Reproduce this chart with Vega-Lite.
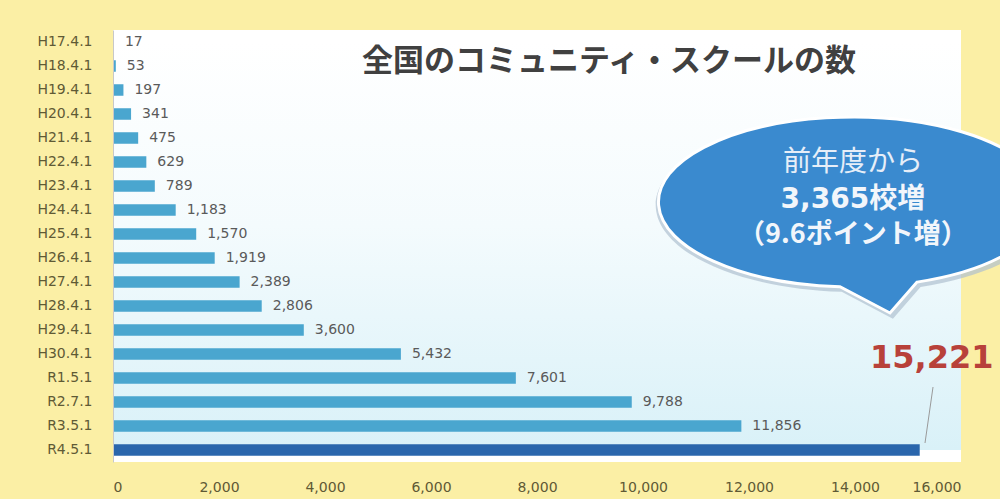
{
  "$schema": "https://vega.github.io/schema/vega-lite/v6.json",
  "width": 848,
  "height": 432,
  "autosize": {"type": "none"},
  "padding": {"left": 113, "top": 30, "right": 39, "bottom": 37},
  "background": "#FBEFA5",
  "config": {
    "view": {"fill": "white", "stroke": null},
    "font": "Noto Sans CJK JP"
  },
  "datasets": {
    "schools": [
      {"d": "H17.4.1", "v": 17},
      {"d": "H18.4.1", "v": 53},
      {"d": "H19.4.1", "v": 197},
      {"d": "H20.4.1", "v": 341},
      {"d": "H21.4.1", "v": 475},
      {"d": "H22.4.1", "v": 629},
      {"d": "H23.4.1", "v": 789},
      {"d": "H24.4.1", "v": 1183},
      {"d": "H25.4.1", "v": 1570},
      {"d": "H26.4.1", "v": 1919},
      {"d": "H27.4.1", "v": 2389},
      {"d": "H28.4.1", "v": 2806},
      {"d": "H29.4.1", "v": 3600},
      {"d": "H30.4.1", "v": 5432},
      {"d": "R1.5.1", "v": 7601},
      {"d": "R2.7.1", "v": 9788},
      {"d": "R3.5.1", "v": 11856},
      {"d": "R4.5.1", "v": 15221}
    ]
  },
  "data": {"name": "schools"},
  "encoding": {
    "y": {
      "field": "d",
      "type": "nominal",
      "sort": null,
      "scale": {
        "domain": ["H17.4.1", "H18.4.1", "H19.4.1", "H20.4.1", "H21.4.1", "H22.4.1", "H23.4.1", "H24.4.1", "H25.4.1", "H26.4.1", "H27.4.1", "H28.4.1", "H29.4.1", "H30.4.1", "R1.5.1", "R2.7.1", "R3.5.1", "R4.5.1"],
        "paddingInner": 0,
        "paddingOuter": 0
      },
      "axis": {
        "title": null,
        "labelFont": "DejaVu Sans",
        "labelFontSize": 14,
        "labelColor": "#5F5A35",
        "ticks": false,
        "domain": true,
        "domainColor": "#C8C8C8",
        "labelPadding": 21
      }
    }
  },
  "layer": [
    {
      "data": {"values": [{}]},
      "mark": {
        "type": "rect",
        "fill": {
          "gradient": "linear",
          "x1": 0, "y1": 0, "x2": 0, "y2": 1,
          "stops": [
            {"offset": 0, "color": "#FFFFFF"},
            {"offset": 0.45, "color": "#F4FBFD"},
            {"offset": 1, "color": "#D9F1F8"}
          ]
        }
      },
      "encoding": {
        "x": {
          "datum": 0,
          "type": "quantitative",
          "scale": {"domain": [0, 16000], "nice": false},
          "axis": {
            "title": null,
            "values": [0, 2000, 4000, 6000, 8000, 10000, 12000, 14000, 16000],
            "labelExpr": "format(datum.value, ',')",
            "grid": false,
            "ticks": false,
            "domain": false,
            "labelFont": "DejaVu Sans",
            "labelFontSize": 14,
            "labelColor": "#5F5A35",
            "labelPadding": 18
          }
        },
        "x2": {"datum": 16000},
        "y": {"datum": "H17.4.1", "type": "nominal"},
        "y2": {"datum": "R4.5.1"}
      }
    },
    {
      "mark": {"type": "bar", "height": {"band": 0.48}},
      "encoding": {
        "x": {
          "field": "v",
          "type": "quantitative",
          "axis": {
            "title": null,
            "values": [0, 2000, 4000, 6000, 8000, 10000, 12000, 14000, 16000],
            "labelExpr": "format(datum.value, ',')",
            "grid": false,
            "ticks": false,
            "domain": false,
            "labelFont": "DejaVu Sans",
            "labelFontSize": 14,
            "labelColor": "#5F5A35",
            "labelPadding": 18
          }
        },
        "color": {
          "condition": {"test": "datum.d === 'R4.5.1'", "value": "#2A66AC"},
          "value": "#4AA6CF"
        }
      }
    },
    {
      "transform": [{"filter": "datum.d !== 'R4.5.1'"}],
      "mark": {
        "type": "text",
        "align": "left",
        "baseline": "middle",
        "dx": 11,
        "font": "DejaVu Sans",
        "fontSize": 14,
        "color": "#5A5A5A"
      },
      "encoding": {
        "x": {"field": "v", "type": "quantitative"},
        "text": {"field": "v", "type": "quantitative", "format": ","}
      }
    },
    {
      "data": {"values": [{}]},
      "mark": {"type": "rule", "color": "#9A9A9A", "strokeWidth": 1, "yOffset": 9, "y2Offset": -7},
      "encoding": {
        "x": {"datum": 15472, "type": "quantitative"},
        "x2": {"datum": 15321},
        "y": {"datum": "R1.5.1", "type": "nominal"},
        "y2": {"datum": "R4.5.1"}
      }
    },
    {
      "data": {"values": [{"t": "15,221", "x": 14283, "d": "H30.4.1"}]},
      "mark": {
        "type": "text",
        "align": "left",
        "baseline": "middle",
        "yOffset": 4,
        "font": "DejaVu Sans",
        "fontSize": 32,
        "fontWeight": "bold",
        "color": "#B8413A"
      },
      "encoding": {
        "x": {"field": "x", "type": "quantitative"},
        "text": {"field": "t"}
      }
    },
    {
      "data": {"values": [{"x": 13943, "d": "H24.4.1"}]},
      "mark": {
        "type": "point",
        "filled": true,
        "shape": "M -0.062,0.437 A 1,0.438 0 1,1 0.335,0.413 L 0.196,0.572 Z",
        "size": 158000,
        "color": "#AFC0D0",
        "opacity": 0.7,
        "xOffset": 2,
        "yOffset": -5
      },
      "encoding": {
        "x": {"field": "x", "type": "quantitative"}
      }
    },
    {
      "data": {"values": [{"x": 13943, "d": "H24.4.1"}]},
      "mark": {
        "type": "point",
        "filled": true,
        "shape": "M -0.062,0.437 A 1,0.438 0 1,1 0.335,0.413 L 0.196,0.572 Z",
        "size": 150544,
        "fill": "#3A8ACF",
        "stroke": "#FFFFFF",
        "strokeWidth": 3,
        "opacity": 1,
        "yOffset": -8
      },
      "encoding": {
        "x": {"field": "x", "type": "quantitative"}
      }
    },
    {
      "data": {"values": [{"t": "前年度から", "x": 13960, "d": "H24.4.1"}]},
      "mark": {
        "type": "text",
        "align": "center",
        "baseline": "middle",
        "yOffset": -47,
        "fontSize": 28,
        "color": "#E6EEF8"
      },
      "encoding": {
        "x": {"field": "x", "type": "quantitative"},
        "text": {"field": "t"}
      }
    },
    {
      "data": {"values": [{"t": "3,365校増", "x": 13960, "d": "H24.4.1"}]},
      "mark": {
        "type": "text",
        "align": "center",
        "baseline": "middle",
        "yOffset": -10,
        "font": "DejaVu Sans, Noto Sans CJK JP",
        "fontSize": 28,
        "fontWeight": "bold",
        "color": "#F2F6FB"
      },
      "encoding": {
        "x": {"field": "x", "type": "quantitative"},
        "text": {"field": "t"}
      }
    },
    {
      "data": {"values": [{"t": "（9.6ポイント増）", "x": 13960, "d": "H24.4.1"}]},
      "mark": {
        "type": "text",
        "align": "center",
        "baseline": "middle",
        "yOffset": 25,
        "fontSize": 27,
        "fontWeight": "bold",
        "color": "#F2F6FB"
      },
      "encoding": {
        "x": {"field": "x", "type": "quantitative"},
        "text": {"field": "t"}
      }
    },
    {
      "data": {"values": [{"t": "全国のコミュニティ・スクールの数", "x": 9358, "d": "H18.4.1"}]},
      "mark": {
        "type": "text",
        "align": "center",
        "baseline": "middle",
        "yOffset": -4,
        "fontSize": 31,
        "fontWeight": "bold",
        "color": "#404040"
      },
      "encoding": {
        "x": {"field": "x", "type": "quantitative"},
        "text": {"field": "t"}
      }
    }
  ]
}
